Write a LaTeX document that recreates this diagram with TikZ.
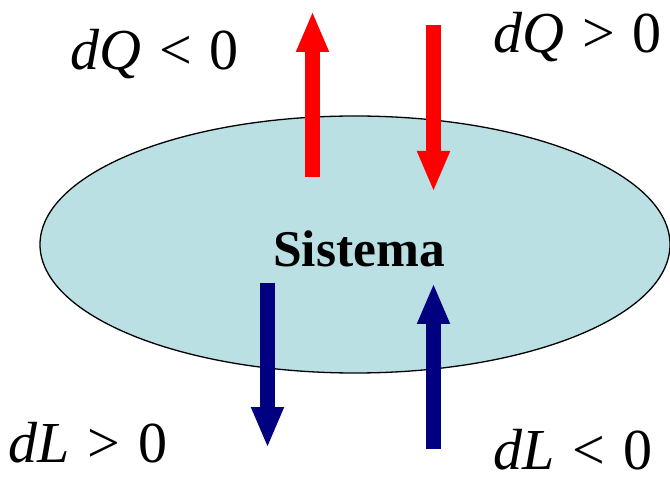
\documentclass[tikz,border=0pt]{standalone}
\usepackage{fontspec}
\setmainfont{Liberation Serif}
\usetikzlibrary{shapes.geometric,arrows.meta}
\definecolor{sysfill}{RGB}{186,224,227}
\definecolor{heatred}{RGB}{255,0,0}
\definecolor{worknavy}{RGB}{0,0,128}
\newcommand{\relgap}{\hspace{0.31em}}
\tikzset{
  flow/.style={line width=15pt, line cap=butt, -{Triangle[width=30pt,length=41pt]}},
  lbl/.style={inner sep=0pt, anchor=base west, font=\fontsize{58}{60}\selectfont},
}
\begin{document}
\begin{tikzpicture}[x=1pt,y=-1pt]
\useasboundingbox (0,0) rectangle (670,481);
\node[ellipse, draw=black, line width=1.3pt, fill=sysfill, minimum width=630pt, minimum height=257pt, inner sep=0pt] (sys) at (355,244.5) {};
\node[inner sep=0pt, anchor=base, font=\fontsize{51.5}{53}\selectfont\bfseries] (name) at (359,267) {Sistema};
% heat arrows
\coordinate (q1s) at (312.5,177);
\coordinate (q1e) at (312.5,11);
\coordinate (q2s) at (433.5,25);
\coordinate (q2e) at (433.5,192);
% work arrows
\coordinate (l1s) at (267.5,283);
\coordinate (l1e) at (267.5,448);
\coordinate (l2s) at (433.5,449);
\coordinate (l2e) at (433.5,283);
\draw[flow, heatred] (q1s) -- (q1e);
\draw[flow, heatred] (q2s) -- (q2e);
\draw[flow, worknavy] (l1s) -- (l1e);
\draw[flow, worknavy] (l2s) -- (l2e);
\node[lbl] (dqneg) at (70,70) {\textit{dQ}\relgap<\relgap0};
\node[lbl] (dqpos) at (493,53) {\textit{dQ}\relgap>\relgap0};
\node[lbl] (dlpos) at (8,462) {\textit{dL}\relgap>\relgap0};
\node[lbl] (dlneg) at (493,469) {\textit{dL}\relgap<\relgap0};
\end{tikzpicture}
\end{document}
